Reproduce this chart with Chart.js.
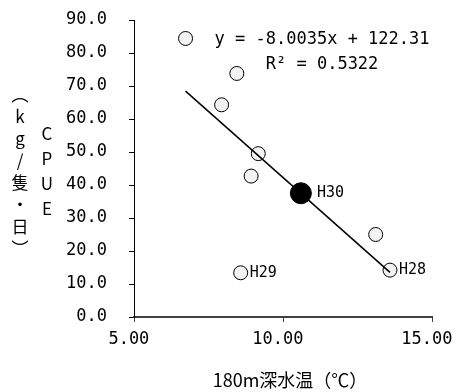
<!DOCTYPE html>
<html lang="ja">
<head>
<meta charset="utf-8">
<script src="https://cdn.jsdelivr.net/npm/chart.js@4/dist/chart.umd.min.js"></script>
<style>
  html, body { margin: 0; padding: 0; background: #fff; }
  #wrap { position: relative; width: 454px; height: 392px; }
  .title {
    position: absolute;
    font-family: "Noto Sans CJK JP", sans-serif;
    font-size: 17px;
    color: #000;
    transform: translate(-50%, -50%);
    white-space: nowrap;
    line-height: 1;
  }
  .vertical {
    writing-mode: vertical-rl;
    text-orientation: mixed;
  }
  .upright { text-orientation: upright; }
</style>
</head>
<body>
<div id="wrap">
  <canvas id="chart"></canvas>
  <div class="title vertical" style="left:20px; top:174px; letter-spacing:5px;">（<span class="upright">kg/</span>隻・日）</div>
  <div class="title vertical upright" style="left:47px; top:175px; letter-spacing:8px;">CPUE</div>
  <div class="title" style="left:290px; top:379px; font-size:18px;">180m深水温（℃）</div>
</div>
<script>
// 180m深水温 (x) と CPUE (y)
const tempX = [6.73, 7.94, 8.45, 9.17, 8.93, 13.11, 13.59, 8.58];
const cpueY = [84.4, 64.3, 73.8, 49.5, 42.7, 25.0, 14.2, 13.4];
const pointNames = ["", "", "", "", "", "", "H28", "H29"];

// H30 (highlighted)
const h30X = [10.6];
const h30Y = [37.5];
const h30Names = ["H30"];

// linear trend endpoints (y = -8.0035x + 122.31)
const trendX = [6.73, 13.59];
const trendY = [68.45, 13.54];
const trendText = ["y = -8.0035x + 122.31", "R² = 0.5322"];

const xTicks = [5, 10, 15];
const yTicks = [0, 10, 20, 30, 40, 50, 60, 70, 80, 90];

const toPoints = (xs, ys) => xs.map((x, i) => ({ x, y: ys[i] }));

const monoFont = { family: "DejaVu Sans Mono", size: 17 };

const labelPlugin = {
  id: "labels",
  afterDatasetsDraw(chart) {
    const { ctx, scales } = chart;
    ctx.save();
    ctx.fillStyle = "#000";
    ctx.textBaseline = "middle";
    ctx.textAlign = "left";
    ctx.font = '15px "DejaVu Sans Mono"';
    pointNames.forEach((name, i) => {
      if (!name) return;
      ctx.fillText(name, scales.x.getPixelForValue(tempX[i]) + 9, scales.y.getPixelForValue(cpueY[i]));
    });
    h30Names.forEach((name, i) => {
      ctx.fillText(name, scales.x.getPixelForValue(h30X[i]) + 16, scales.y.getPixelForValue(h30Y[i]));
    });

    ctx.textAlign = "center";
    ctx.font = '17px "DejaVu Sans Mono"';
    const cx = scales.x.getPixelForValue(11.31);
    ctx.fillText(trendText[0], cx, scales.y.getPixelForValue(84.2));
    ctx.fillText(trendText[1], cx, scales.y.getPixelForValue(76.4));
    ctx.restore();
  },
};

new Chart(document.getElementById("chart"), {
  type: "scatter",
  data: {
    datasets: [
      {
        label: "H30",
        data: toPoints(h30X, h30Y),
        backgroundColor: "#000",
        borderColor: "#000",
        pointRadius: 10.5,
        order: 0,
      },
      {
        type: "line",
        label: "trend",
        data: toPoints(trendX, trendY),
        borderColor: "#000",
        borderWidth: 1.5,
        pointRadius: 0,
        fill: false,
        order: 1,
      },
      {
        label: "CPUE",
        data: toPoints(tempX, cpueY),
        backgroundColor: "#f2f2f2",
        borderColor: "#000",
        borderWidth: 1,
        pointRadius: 7,
        order: 2,
      },
    ],
  },
  options: {
    responsive: true,
    maintainAspectRatio: false,
    animation: false,
    layout: { padding: { left: 0, right: 22, top: 20, bottom: 0 } },
    plugins: {
      legend: { display: false },
      tooltip: { enabled: false },
    },
    scales: {
      x: {
        type: "linear",
        min: 5,
        max: 15,
        afterBuildTicks: (scale) => {
          scale.ticks = xTicks.map((v) => ({ value: v }));
        },
        afterFit: (scale) => {
          scale.height = 75;
          scale.paddingLeft = 0;
          scale.paddingRight = 0;
        },
        ticks: {
          color: "#000",
          font: monoFont,
          padding: 7,
          maxRotation: 0,
          // trailing space shifts the label left like the original
          callback: (v) => Number(v).toFixed(2) + " ",
        },
        grid: { drawOnChartArea: false, drawTicks: true, tickLength: 5, color: "#404040" },
        border: { color: "#404040", width: 2 },
      },
      y: {
        min: 0,
        max: 90,
        afterBuildTicks: (scale) => {
          scale.ticks = yTicks.map((v) => ({ value: v }));
        },
        afterFit: (scale) => {
          scale.width = 134;
          scale.paddingTop = 0;
          scale.paddingBottom = 0;
        },
        ticks: {
          color: "#000",
          font: monoFont,
          padding: 22,
          callback: (v) => Number(v).toFixed(1),
        },
        grid: { drawOnChartArea: false, drawTicks: true, tickLength: 5, color: "#000" },
        border: { color: "#000", width: 1 },
      },
    },
  },
  plugins: [labelPlugin],
});
</script>
</body>
</html>
